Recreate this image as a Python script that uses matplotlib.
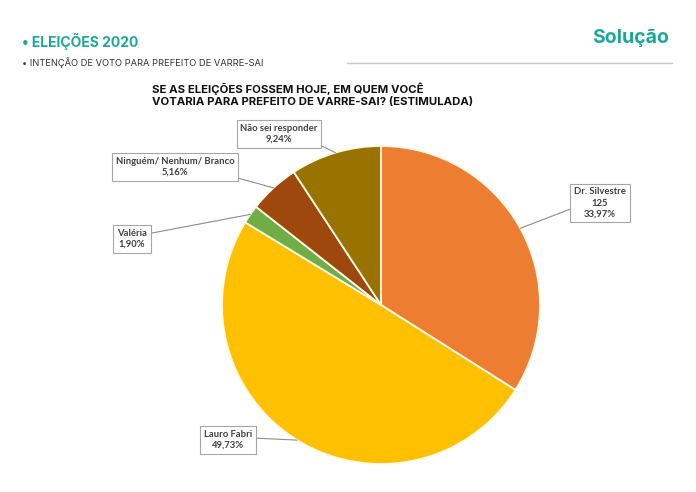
import matplotlib

matplotlib.use("Agg")
import matplotlib.pyplot as plt
import numpy as np

# ----- data --------------------------------------------------------------
LABELS = ["Dr. Silvestre\n125", "Lauro Fabri", "Valéria",
          "Ninguém/ Nenhum/ Branco", "Não sei responder"]
VALUES = [33.97, 49.73, 1.90, 5.16, 9.24]
COLORS = ["#ED7D31", "#FFC000", "#70AD47", "#9E480E", "#997300"]
# box centre of each callout, in figure pixels (top-left origin)
BOX_XY = [(600, 203), (228, 440), (132, 239), (175, 167), (279, 134)]
# where the leader line leaves the box (relpos within the box)
RELPOS = [(0.0, 0.35), (1.0, 0.6), (1.0, 0.75), (1.0, 0.0), (1.0, 0.0)]
# -------------------------------------------------------------------------

W, H = 696, 492
TEAL = "#1BA89A"
CX, CY, R = 381, 305, 159


def fig_frac(x, y):
    return x / W, 1 - y / H


fig = plt.figure(figsize=(W / 100, H / 100), dpi=100)
fig.patch.set_facecolor("white")

# header
fig.text(*fig_frac(22, 42), "• ELEIÇÕES 2020", color=TEAL, fontsize=10,
         fontweight="bold", va="center", ha="left", family="Inter")
fig.text(*fig_frac(22, 63), "• INTENÇÃO DE VOTO PARA PREFEITO DE VARRE-SAI",
         color="#333333", fontsize=6.7, va="center", ha="left", family="Inter")
fig.text(*fig_frac(631, 38), "Solução", color=TEAL, fontsize=14,
         fontweight="bold", va="center", ha="center", family="Inter")
fig.add_artist(plt.Line2D([347 / W, 672 / W], [1 - 63 / H, 1 - 63 / H],
                          color="#c8c8c8", lw=1.0))

# chart title
fig.text(*fig_frac(152, 95),
         "SE AS ELEIÇÕES FOSSEM HOJE, EM QUEM VOCÊ\n"
         "VOTARIA PARA PREFEITO DE VARRE-SAI? (ESTIMULADA)",
         color="#111111", fontsize=8.2, fontweight="bold", va="center",
         ha="left", family="Inter", linespacing=1.2)

ax = fig.add_axes([(CX - R) / W, (H - CY - R) / H, 2 * R / W, 2 * R / H])
wedges, _ = ax.pie(VALUES, colors=COLORS, startangle=90, counterclock=False,
                   radius=1.0, wedgeprops=dict(edgecolor="#fffbe8", linewidth=1.3))
ax.set_xlim(-1, 1)
ax.set_ylim(-1, 1)
ax.set_aspect("equal")
ax.axis("off")

for w, lab, val, (bx, by), rp in zip(wedges, LABELS, VALUES, BOX_XY, RELPOS):
    ang = np.deg2rad((w.theta1 + w.theta2) / 2)
    xy = (np.cos(ang), np.sin(ang))
    pct = f"{val:.2f}".replace(".", ",")
    txt = f"{lab}\n{pct}%"
    ax.annotate(txt, xy=xy, xycoords="data",
                xytext=fig_frac(bx, by), textcoords="figure fraction",
                ha="center", va="center", fontsize=6.8, color="#404040",
                family="Lato", fontweight="bold", linespacing=1.3,
                annotation_clip=False,
                bbox=dict(boxstyle="square,pad=0.4", fc="white", ec="#a6a6a6", lw=0.8),
                arrowprops=dict(arrowstyle="-", color="#8c8c8c", lw=0.8,
                                relpos=rp, shrinkA=0, shrinkB=0))

fig.savefig("out.png", dpi=100)
